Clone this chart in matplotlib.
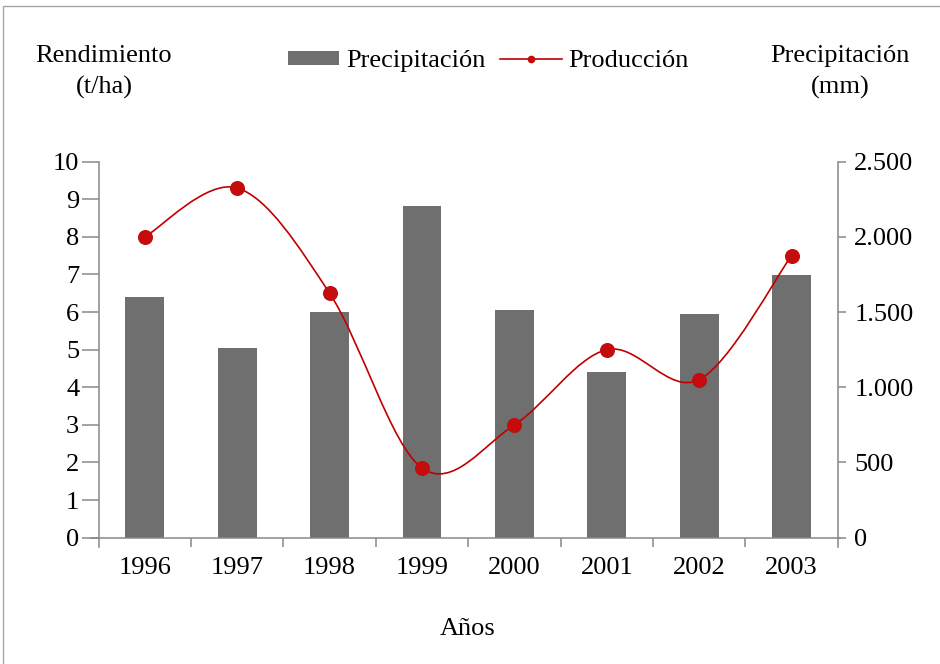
import matplotlib
matplotlib.use("Agg")
import matplotlib.pyplot as plt
from matplotlib.path import Path
from matplotlib.patches import PathPatch, Rectangle, Patch
from matplotlib.lines import Line2D
from matplotlib.legend_handler import HandlerPatch
from matplotlib.ticker import FuncFormatter
import numpy as np

# ---- data ----
years = ["1996", "1997", "1998", "1999", "2000", "2001", "2002", "2003"]
precipitacion_mm = [1600, 1260, 1500, 2205, 1515, 1100, 1490, 1745]
produccion_tha = [8.0, 9.3, 6.5, 1.85, 3.0, 5.0, 4.2, 7.5]
left_ticks = [0, 1, 2, 3, 4, 5, 6, 7, 8, 9, 10]
right_ticks = [0, 500, 1000, 1500, 2000, 2500]

FONT = "Liberation Serif"
FS = 19
plt.rcParams["font.family"] = [FONT, "DejaVu Serif"]
plt.rcParams["font.size"] = FS

BAR = "#6F6F6F"
RED = "#C00000"
MRED = "#C40C0C"
AX = "#888888"

W, H = 940, 664
fig = plt.figure(figsize=(W / 100, H / 100), dpi=100)

def fx(px):
    return px / W

def fy(py):
    return (H - py) / H

left_px, right_px = 98.7, 837.7
top_px, bottom_px = 161.7, 547.0
ax = fig.add_axes([fx(left_px), fy(bottom_px), fx(right_px) - fx(left_px), fy(top_px) - fy(bottom_px)])
ax2 = ax.twinx()

x = np.arange(len(years))
ymin_left = -0.25
ax.set_ylim(ymin_left, 10)
ax2.set_ylim(ymin_left * 250, 2500)
ax.set_xlim(-0.5, len(years) - 0.5)

# bars on right axis (mm)
ax2.bar(x, precipitacion_mm, width=0.42, color=BAR, zorder=2)

# smoothed line (Excel-like Catmull-Rom Bezier) on left axis
pts = list(zip(x.astype(float), produccion_tha))
verts = [pts[0]]
codes = [Path.MOVETO]
n = len(pts)
for i in range(n - 1):
    p0 = np.array(pts[i - 1] if i > 0 else pts[i])
    p1 = np.array(pts[i])
    p2 = np.array(pts[i + 1])
    p3 = np.array(pts[i + 2] if i + 2 < n else pts[i + 1])
    c1 = p1 + (p2 - p0) / 6.0
    c2 = p2 - (p3 - p1) / 6.0
    verts += [tuple(c1), tuple(c2), tuple(p2)]
    codes += [Path.CURVE4] * 3
ax.set_zorder(ax2.get_zorder() + 1)
ax.patch.set_visible(False)
ax.add_patch(PathPatch(Path(verts, codes), facecolor="none", edgecolor=RED, lw=1.2, zorder=3))
ax.plot(x, produccion_tha, linestyle="none", marker="o", markersize=9.8,
        color=MRED, markeredgecolor=MRED, zorder=4)

# spines
for a in (ax, ax2):
    for s in a.spines.values():
        s.set_color(AX)
        s.set_linewidth(1.1)
    a.spines["top"].set_visible(False)
    a.spines["bottom"].set_visible(False)
ax2.spines["left"].set_visible(False)
ax.spines["right"].set_visible(False)

# zero line extending slightly past spines
ax.add_line(Line2D([-0.5 - 0.08, len(years) - 0.5 + 0.02], [0, 0], color=AX, lw=1.1,
                   clip_on=False, zorder=5))

# left ticks
ax.set_yticks(left_ticks)
ax.tick_params(axis="y", direction="out", length=12, width=1.1, color=AX, pad=2,
               labelsize=FS)
# right ticks
ax2.set_yticks(right_ticks)
ax2.yaxis.set_major_formatter(FuncFormatter(lambda v, p: f"{int(v):,}".replace(",", ".")))
ax2.tick_params(axis="y", direction="out", length=6, width=1.1, color=AX, pad=6,
                labelsize=FS)

# x ticks: labels at categories, marks between categories
ax.set_xticks(x)
ax.set_xticklabels(years)
ax.set_xticks(np.arange(0.5, len(years) - 1, 1.0), minor=True)
ax.tick_params(axis="x", which="minor", direction="out", length=6.8, width=1.1, color=AX)
ax.spines["bottom"].set_position(("data", 0))
ax.tick_params(axis="x", which="major", length=0, pad=14, labelsize=FS)

# axis titles and labels
fig.text(fx(104), fy(72), "Rendimiento\n(t/ha)", ha="center", va="center",
         fontsize=FS, linespacing=1.5)
fig.text(fx(840), fy(72), "Precipitación\n(mm)", ha="center", va="center",
         fontsize=FS, linespacing=1.5)
fig.text(fx(468), fy(629), "Años", ha="center", va="center", fontsize=FS)

# legend
def narrow_patch(legend, orig_handle, xdescent, ydescent, width, height, fontsize):
    w2 = width * 51.0 / 62.0
    return Rectangle((-xdescent + width - w2, -ydescent), w2, height)

handles = [Patch(facecolor=BAR, edgecolor="none"),
           Line2D([0], [0], color=RED, lw=1.2, marker="o", markersize=4.5,
                  markerfacecolor=MRED, markeredgecolor=MRED)]
fig.legend(handles, ["Precipitación", "Producción"], loc="center",
           bbox_to_anchor=(fx(483), fy(61)), ncol=2, frameon=False,
           handlelength=2.35, handleheight=0.45, handletextpad=0.25,
           columnspacing=0.55, fontsize=FS, borderaxespad=0,
           handler_map={Patch: HandlerPatch(patch_func=narrow_patch)})

# figure border
fig.add_artist(Rectangle((fx(3), -0.05), 1.2, fy(6) + 0.05, transform=fig.transFigure,
                         fill=False, edgecolor="#A6A6A6", lw=1.0))

fig.savefig("out.png", dpi=100)
